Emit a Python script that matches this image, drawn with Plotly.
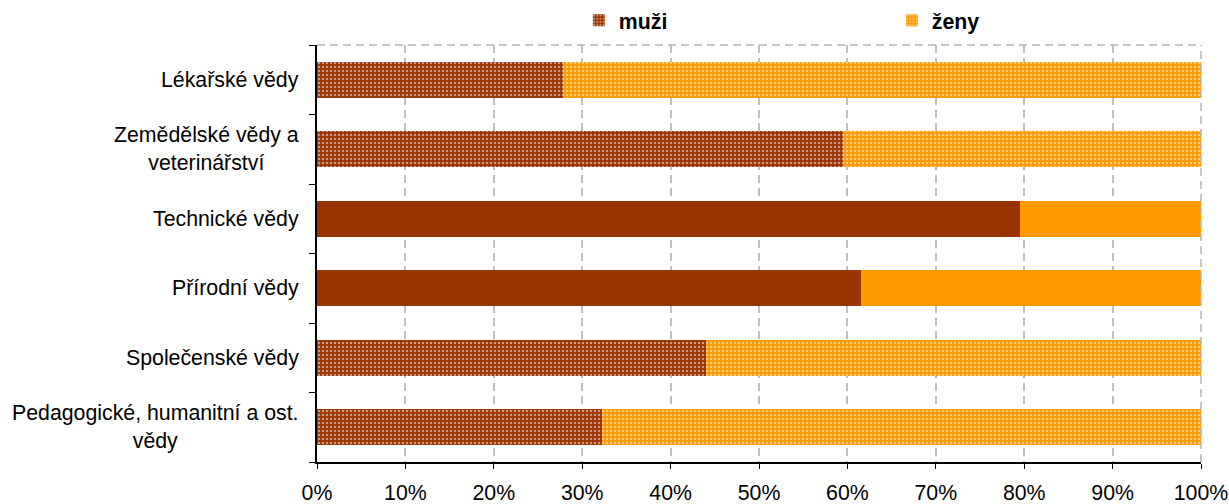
import plotly.graph_objects as go

categories = [
    "Pedagogické, humanitní a ost.<br>vědy",
    "Společenské vědy",
    "Přírodní vědy",
    "Technické vědy",
    "Zemědělské vědy a<br>veterinářství",
    "Lékařské vědy",
]
muzi = [32.2, 44.0, 61.5, 79.5, 59.5, 27.8]
zeny = [round(100 - v, 1) for v in muzi]
patterns = [".", ".", "", "", ".", "."]
x_ticks = list(range(0, 101, 10))
x_tick_labels = [f"{v}%" for v in x_ticks]

FONT = "Liberation Sans, Arial, sans-serif"
FS = 21.3
BROWN = "#993300"
ORANGE = "#FF9900"

fig = go.Figure()
fig.add_trace(go.Bar(
    y=categories, x=muzi, orientation="h", name="muži",
    marker=dict(color=BROWN, line=dict(width=0),
                pattern=dict(shape=patterns, fgcolor="white", size=4, solidity=0.3)),
))
fig.add_trace(go.Bar(
    y=categories, x=zeny, orientation="h", name="ženy",
    marker=dict(color=ORANGE, line=dict(width=0),
                pattern=dict(shape=patterns, fgcolor="white", size=4, solidity=0.3)),
))

for c in categories:
    fig.add_annotation(
        x=0, xref="x", y=c, yref="y", text=c, showarrow=False,
        xanchor="right", yanchor="middle", align="center", xshift=-16,
        font=dict(family=FONT, size=FS, color="black"),
    )

# dashed plot-area border (top and right)
fig.add_shape(type="line", xref="paper", yref="paper", x0=0, x1=1, y0=1, y1=1,
              line=dict(color="#b5b5b5", width=1.5, dash="8px,5px"))
fig.add_shape(type="line", xref="paper", yref="paper", x0=1, x1=1, y0=0, y1=1,
              line=dict(color="#b5b5b5", width=1.5, dash="8px,5px"))

fig.update_layout(
    width=1229, height=504,
    margin=dict(l=317, r=28, t=45, b=42, autoexpand=False),
    paper_bgcolor="white", plot_bgcolor="white",
    barmode="stack", bargap=0.48,
    font=dict(family=FONT, size=FS, color="black"),
    showlegend=True,
    legend=dict(
        orientation="h", xref="container", yref="container",
        x=0.471, xanchor="left", y=1.0, yanchor="top",
        entrywidth=268, entrywidthmode="pixels",
        font=dict(family=FONT, size=FS, color="black", weight="bold"),
        bgcolor="rgba(0,0,0,0)", traceorder="normal",
    ),
    xaxis=dict(
        range=[0, 100], tickvals=x_ticks, ticktext=x_tick_labels,
        showgrid=True, gridcolor="#c0c0c0", gridwidth=1.5, griddash="8px,5px",
        showline=True, linecolor="black", linewidth=1.5,
        ticks="outside", ticklen=5, tickcolor="black", ticklabelstandoff=6,
        zeroline=False, fixedrange=True, automargin=False,
        tickfont=dict(family=FONT, size=FS, color="black"),
    ),
    yaxis=dict(
        categoryorder="array", categoryarray=categories,
        showticklabels=False, showgrid=False, zeroline=False,
        showline=True, linecolor="black", linewidth=1.5,
        ticks="outside", ticklen=6, tickcolor="black", tickson="boundaries",
        fixedrange=True, automargin=False,
    ),
)

fig.write_html(
    "out.html",
    config={"displayModeBar": False},
    post_script="document.body.style.margin='0';document.body.style.padding='0';",
)
